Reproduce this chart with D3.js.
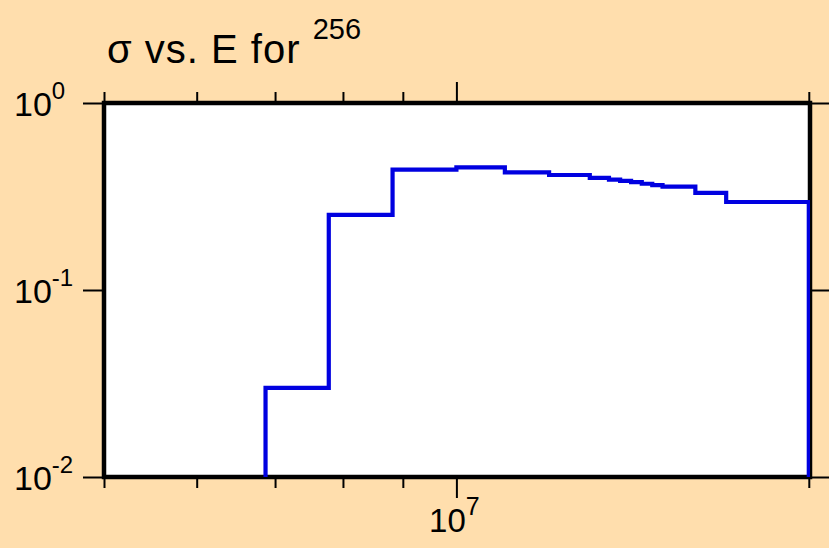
<!DOCTYPE html>
<html>
<head>
<meta charset="utf-8">
<script src="https://cdn.jsdelivr.net/npm/d3@7"></script>
<style>
  html, body { margin: 0; padding: 0; background: #FFDEAD; }
  svg { display: block; }
  text { font-family: "Liberation Sans", Arial, Helvetica, sans-serif; fill: #000; }
</style>
</head>
<body>
<svg id="chart" width="829" height="548"></svg>
<script>
// ---- data ----
const energyEdges = [6.87e6, 7.78e6, 8.82e6, 1.0e7, 1.1e7, 1.2e7, 1.3e7, 1.35e7, 1.38e7, 1.41e7, 1.44e7, 1.47e7, 1.5e7, 1.6e7, 1.7e7, 2.0e7];
const sigmaValues = [0.030, 0.252, 0.440, 0.453, 0.426, 0.412, 0.398, 0.389, 0.383, 0.377, 0.370, 0.364, 0.357, 0.331, 0.2955];
const xDomain = [5e6, 2e7];
const yDomain = [0.01, 1];
const xMinorTicks = [5e6, 6e6, 7e6, 8e6, 9e6, 2e7];
const xMajorTicks = [1e7];
const xMajorExponents = ["7"];
const yMajorTicks = [1, 0.1, 0.01];
const yMajorExponents = ["0", "-1", "-2"];
const titleMain = "\u03C3 vs. E for ";
const titleSup = "256";

// ---- layout ----
const L = 104, R = 810, T = 103, B = 477;
const svg = d3.select("#chart");
svg.append("rect").attr("width", 829).attr("height", 548).attr("fill", "#FFDEAD");

const x = d3.scaleLog().domain(xDomain).range([L, R - 1.2]);
const y = d3.scaleLog().domain(yDomain).range([B, T]);

// plot background
svg.append("rect").attr("x", L).attr("y", T).attr("width", R - L).attr("height", B - T).attr("fill", "#fff");

// clip
svg.append("defs").append("clipPath").attr("id", "clip")
  .append("rect").attr("x", L).attr("y", T).attr("width", R - L).attr("height", B - T);

// axes (ticks only)
function styleAxis(g) {
  g.select(".domain").remove();
  g.selectAll(".tick line").attr("stroke", "#000").attr("stroke-width", 2);
  g.selectAll(".tick text").remove();
}
svg.append("g").attr("transform", `translate(0,${B})`)
  .call(d3.axisBottom(x).tickValues(xMinorTicks).tickSize(11)).call(styleAxis);
svg.append("g").attr("transform", `translate(0,${B})`)
  .call(d3.axisBottom(x).tickValues(xMajorTicks).tickSize(21)).call(styleAxis);
svg.append("g").attr("transform", `translate(0,${T})`)
  .call(d3.axisTop(x).tickValues(xMinorTicks).tickSize(11)).call(styleAxis);
svg.append("g").attr("transform", `translate(0,${T})`)
  .call(d3.axisTop(x).tickValues(xMajorTicks).tickSize(21)).call(styleAxis);
svg.append("g").attr("transform", `translate(${L},0)`)
  .call(d3.axisLeft(y).tickValues(yMajorTicks).tickSize(21)).call(styleAxis);
svg.append("g").attr("transform", `translate(${R},0)`)
  .call(d3.axisRight(y).tickValues(yMajorTicks).tickSize(21)).call(styleAxis);

// border
svg.append("rect").attr("x", L).attr("y", T).attr("width", R - L).attr("height", B - T)
  .attr("fill", "none").attr("stroke", "#000").attr("stroke-width", 4.5);

// step line
const pts = [[energyEdges[0], yDomain[0]]];
sigmaValues.forEach((v, i) => {
  pts.push([energyEdges[i], v]);
  pts.push([energyEdges[i + 1], v]);
});
pts.push([energyEdges[energyEdges.length - 1], yDomain[0]]);
const line = d3.line().x(d => x(d[0])).y(d => y(d[1]));
svg.append("path").attr("clip-path", "url(#clip)")
  .attr("d", line(pts))
  .attr("fill", "none").attr("stroke", "#0000E0").attr("stroke-width", 4.2)
  .attr("stroke-linejoin", "miter").attr("stroke-linecap", "butt");

// y labels
yMajorTicks.forEach((v, i) => {
  const t = svg.append("text").attr("x", 14).attr("y", y(v) + 13)
    .attr("font-size", 34);
  t.append("tspan").text("10");
  t.append("tspan").attr("dy", -17).attr("font-size", 24).text(yMajorExponents[i]);
});

// x labels
xMajorTicks.forEach((v, i) => {
  const t = svg.append("text").attr("x", x(v) - 2).attr("y", 532)
    .attr("text-anchor", "middle").attr("font-size", 33);
  t.append("tspan").text("10");
  t.append("tspan").attr("dy", -17).attr("font-size", 25).text(xMajorExponents[i]);
});

// title
const tt = svg.append("text").attr("x", 107).attr("y", 63).attr("font-size", 40)
  .attr("letter-spacing", 1);
tt.append("tspan").text(titleMain);
tt.append("tspan").attr("dy", -24).attr("font-size", 29).attr("letter-spacing", 0).text(titleSup);
</script>
</body>
</html>
